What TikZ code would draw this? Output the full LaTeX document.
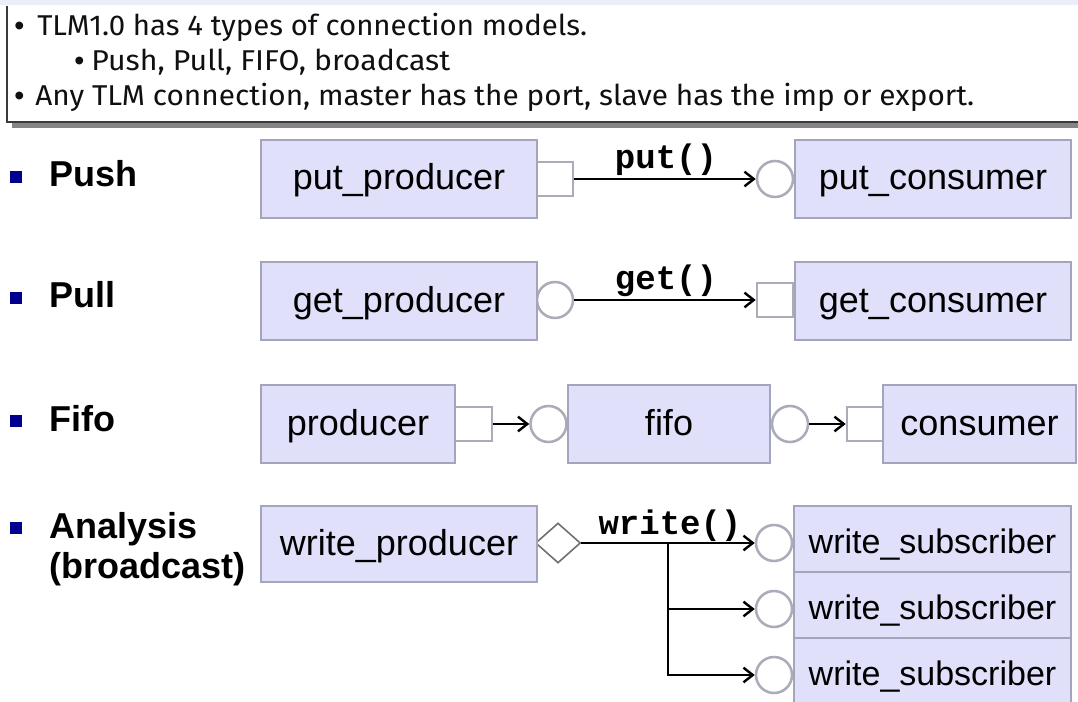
\documentclass[tikz,border=0pt]{standalone}
\usepackage{fontspec}
\usepackage{graphicx}
\usetikzlibrary{arrows.meta,shapes.geometric}
\setmainfont{Liberation Sans}
\newfontfamily\hdrfont{Fira Sans}
\newfontfamily\bulfont{Liberation Sans}
\newfontfamily\monof{Liberation Mono}
\definecolor{boxfill}{HTML}{E0E0FA}
\definecolor{boxline}{HTML}{A4A4BC}
\definecolor{portline}{HTML}{ABABB9}
\definecolor{bulletblue}{HTML}{00008C}
\definecolor{topstrip}{HTML}{E9EEF7}
\definecolor{hdrtext}{HTML}{101010}
\definecolor{hdrline}{HTML}{3A3A3A}
\definecolor{shadowgray}{HTML}{858585}
\definecolor{diamline}{HTML}{707070}
\begin{document}
\begin{tikzpicture}[x=0.75pt,y=-0.75pt,
  comp/.style={draw=boxline, line width=2.2pt, fill=boxfill, minimum height=58.5pt,
    inner sep=0pt, text height=20pt, text depth=3.5pt,
    font=\fontsize{27pt}{30pt}\selectfont},
  sub/.style={draw=boxline, line width=2.2pt, fill=boxfill, minimum width=207.75pt,
    minimum height=49.5pt, inner sep=0pt, text height=22pt, text depth=1pt,
    font=\fontsize{25.5pt}{28pt}\selectfont},
  sqport/.style={draw=portline, line width=1.9pt, fill=white, minimum width=27pt,
    minimum height=25.5pt, inner sep=0pt},
  circport/.style={circle, draw=portline, line width=1.9pt, fill=white,
    minimum size=27pt, inner sep=0pt},
  diaport/.style={diamond, draw=diamline, line width=1.2pt, fill=white,
    minimum width=33.75pt, minimum height=30pt, inner sep=0pt},
  conn/.style={draw=black, line width=1.7pt,
    -{Straight Barb[length=7pt,width=11pt,line width=1.8pt]}},
  mono/.style={font=\monof\bfseries\fontsize{25.5pt}{28pt}\selectfont, inner sep=0pt},
  lbl/.style={font=\bfseries\fontsize{27pt}{30pt}\selectfont, inner sep=0pt, anchor=base west},
  sqbullet/.style={fill=bulletblue, minimum size=9.5pt, inner sep=0pt},
  hdr/.style={font=\hdrfont\fontsize{21.5pt}{24pt}\selectfont, text=hdrtext,
    inner sep=0pt, anchor=base west},
  hbul/.style={font=\bulfont\fontsize{21.5pt}{24pt}\selectfont, text=hdrtext,
    inner sep=0pt, anchor=base west}
]
\useasboundingbox (0,0) rectangle (1078,702);
% header panel
\fill[topstrip] (0,0) rectangle (1078,5);
\fill[shadowgray] (12,122) rectangle (1078,128);
\fill[white] (7,6) rectangle (1078,122);
\draw[hdrline, line width=1.1pt] (7,6) -- (7,122) -- (1078,122);
\node[hbul] (hb1) at (14,36) {•};
\node[hdr] (ht1) at (37,36) {\resizebox{412.5pt}{\height}{TLM1.0 has 4 types of connection models.}};
\node[hbul] (hb2) at (74,71) {•};
\node[hdr] (ht2) at (91,71) {\resizebox{269.25pt}{\height}{Push, Pull, FIFO, broadcast}};
\node[hbul] (hb3) at (14,106) {•};
\node[hdr] (ht3) at (35,106) {\resizebox{704.25pt}{\height}{Any TLM connection, master has the port, slave has the imp or export.}};

% row labels
\node[sqbullet] (bpush) at (16,177) {};
\node[lbl] (lpush) at (49,187) {Push};
\node[sqbullet] (bpull) at (16,298) {};
\node[lbl] (lpull) at (49,308) {Pull};
\node[sqbullet] (bfifo) at (16,421) {};
\node[lbl] (lfifo) at (49,431) {Fifo};
\node[sqbullet] (bana) at (16,528) {};
\node[lbl] (lana) at (49,538) {Analysis};
\node[lbl] (lbro) at (49,578) {(broadcast)};

% Push
\node[sqport] (putpo) at (555,179) {};
\node[circport] (putci) at (775,179) {};
\node[comp, minimum width=207pt] (putp) at (399,179) {put\_producer};
\node[comp, minimum width=207pt] (putc) at (933,179) {put\_consumer};
\draw[conn] (putpo.east) -- (putci.west);
\node[mono] (putlbl) at (666,160) {put()};

% Pull
\node[circport] (getpo) at (555,300) {};
\node[sqport] (getci) at (775,300) {};
\node[comp, minimum width=207pt] (getp) at (399,301) {get\_producer};
\node[comp, minimum width=207pt] (getc) at (933,301) {get\_consumer};
\draw[conn] (getpo.east) -- (getci.west);
\node[mono] (getlbl) at (666,281) {get()};

% Fifo
\node[sqport, minimum width=27.75pt] (prodo) at (473.5,424) {};
\node[circport] (fifoi) at (548.5,424) {};
\node[circport] (fifoo) at (790,424) {};
\node[sqport] (consi) at (865,424) {};
\node[comp, minimum width=145.5pt] (prod) at (358,424) {producer};
\node[comp, minimum width=151.5pt] (fifo) at (669,424) {fifo};
\node[comp, minimum width=144.75pt] (cons) at (979.5,424) {consumer};
\draw[conn] (prodo.east) -- (fifoi.west);
\draw[conn] (fifoo.east) -- (consi.west);

% Analysis (broadcast)
\node[diaport] (wpo) at (558,543) {};
\node[comp, minimum width=207pt, minimum height=57pt] (wp) at (399,544) {write\_producer};
\node[circport] (wc1) at (774,543) {};
\node[circport] (wc2) at (774,609) {};
\node[circport] (wc3) at (774,675) {};
\node[sub] (ws1) at (932.5,539) {write\_subscriber};
\node[sub] (ws2) at (932.5,605) {write\_subscriber};
\node[sub] (ws3) at (932.5,671) {write\_subscriber};
\coordinate (split) at (668,543);
\draw[conn] (wpo.east) -- (wc1.west);
\draw[conn] (split) |- (wc2.west);
\draw[conn] (split) |- (wc3.west);
\node[mono] (wlbl) at (670,526) {write()};
\end{tikzpicture}
\end{document}
